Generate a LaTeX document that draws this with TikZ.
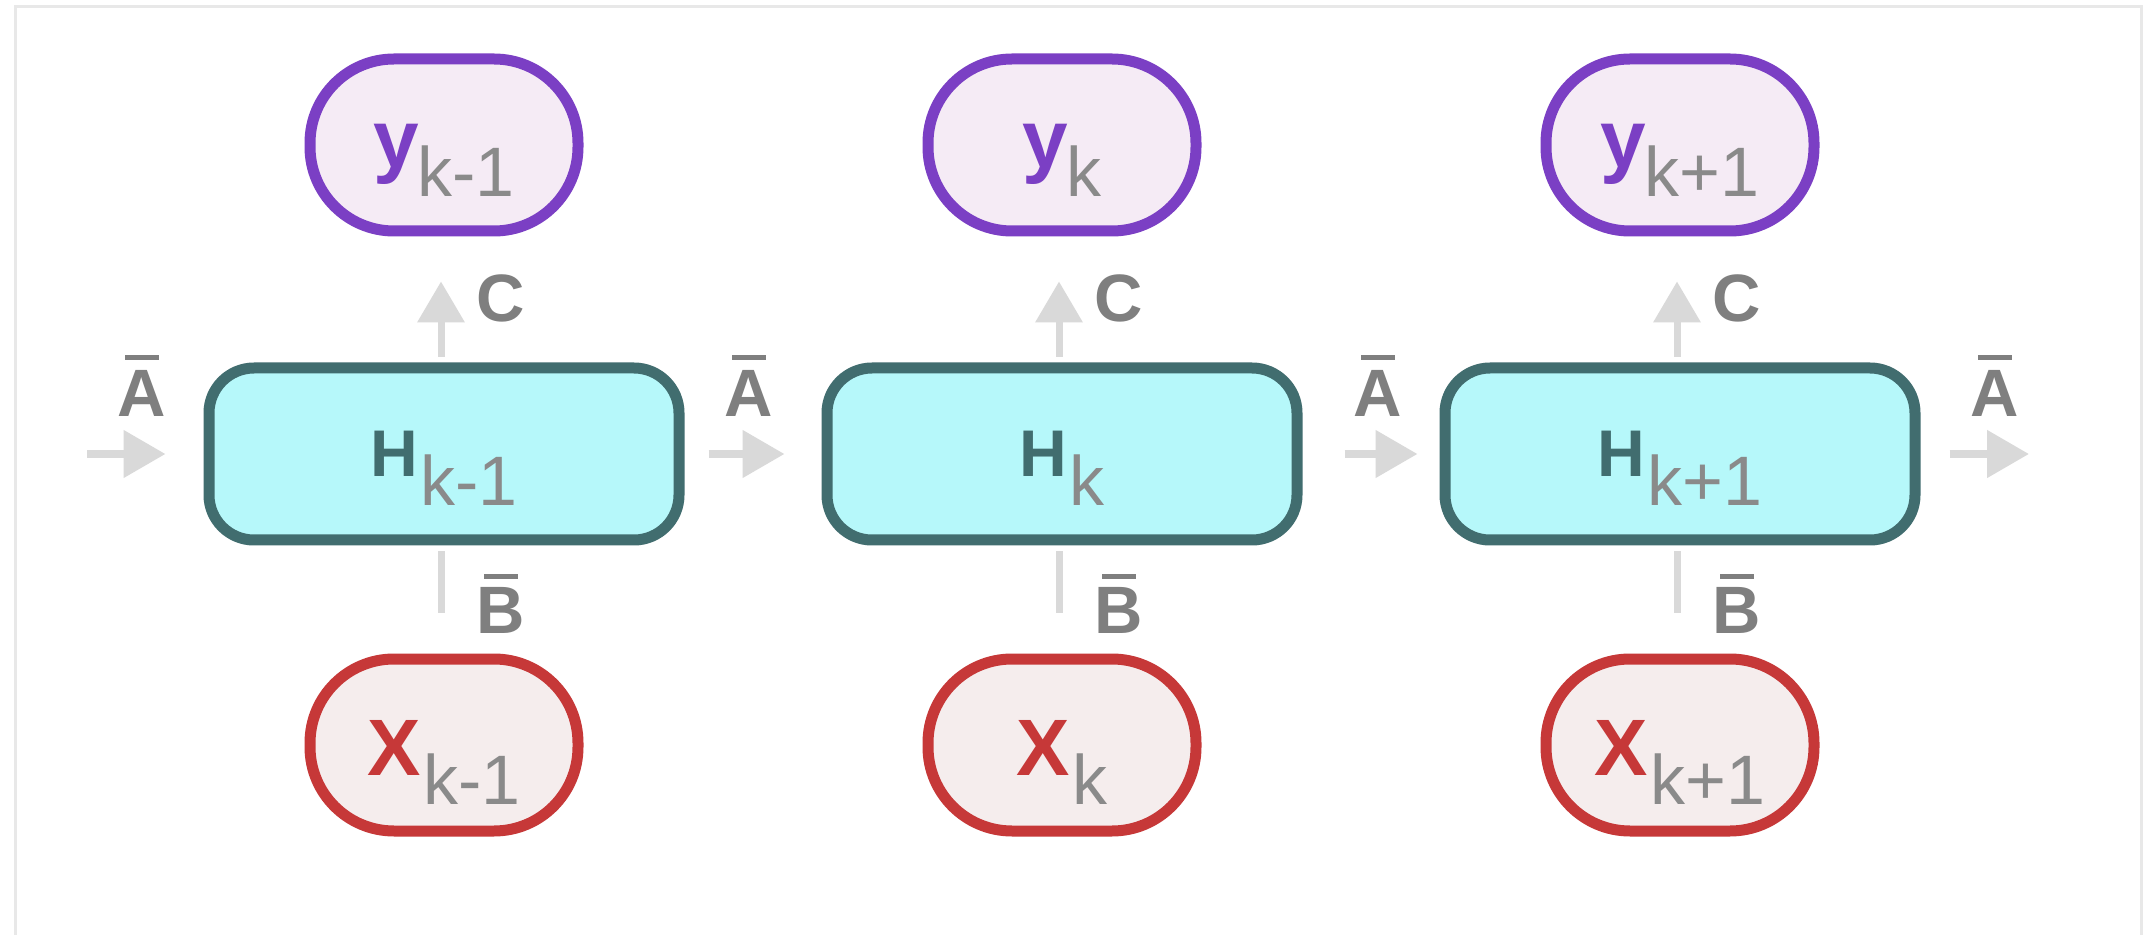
\documentclass[tikz,border=0pt]{standalone}
\usepackage{fontspec}
\setmainfont{Liberation Sans}
\usetikzlibrary{arrows.meta,calc}
\definecolor{ypurple}{HTML}{7B3FC4}
\definecolor{yfill}{HTML}{F5EBF5}
\definecolor{hteal}{HTML}{416D6F}
\definecolor{hfill}{HTML}{B6F8FA}
\definecolor{xred}{HTML}{C63838}
\definecolor{xfill}{HTML}{F5EDED}
\definecolor{subgray}{HTML}{8A8A8A}
\definecolor{lblgray}{HTML}{7F7F7F}
\definecolor{arrgray}{HTML}{D9D9D9}
\definecolor{framegray}{HTML}{E8E8E8}
\newcommand{\lowsub}[1]{\raisebox{-14.5pt}{\fontsize{35}{35}\selectfont\mdseries\color{subgray}#1}}
\newcommand{\barred}[2]{\ooalign{#1\cr\hidewidth\rule[#2]{17pt}{2.3pt}\hidewidth\cr}}
\tikzset{
  ynode/.style={draw=ypurple, fill=yfill, line width=5.5pt, rounded corners=42pt,
    minimum width=134pt, minimum height=86pt, inner sep=0pt,
    text height=23pt, text depth=0pt, text=ypurple,
    font=\fontsize{41}{41}\selectfont\bfseries},
  xnode/.style={draw=xred, fill=xfill, line width=5.5pt, rounded corners=42pt,
    minimum width=134pt, minimum height=86pt, inner sep=0pt,
    text height=30pt, text depth=0pt, text=xred,
    font=\fontsize{40}{40}\selectfont\bfseries},
  hnode/.style={draw=hteal, fill=hfill, line width=5.5pt, rounded corners=22.5pt,
    minimum width=235pt, minimum height=86pt, inner sep=0pt,
    text height=23pt, text depth=0pt, text=hteal,
    font=\fontsize{33}{33}\selectfont\bfseries},
  lbl/.style={text=lblgray, font=\fontsize{33.5}{33.5}\selectfont\bfseries, inner sep=0pt, anchor=base},
  harr/.style={draw=arrgray, line width=4pt, -{Triangle[length=21pt,width=23pt]}},
  varr/.style={draw=arrgray, line width=3.5pt, -{Triangle[length=20.5pt,width=23pt]}, shorten <=2.75pt},
  vline/.style={draw=arrgray, line width=3.5pt, shorten >=2.75pt},
  framec/.style={draw=framegray, line width=1.5pt},
}
\begin{document}
\begin{tikzpicture}[x=0.5pt,y=-0.5pt]
\useasboundingbox (0,0) rectangle (2143,935);
\fill[white] (0,0) rectangle (2143,935);
\draw[framec] (15,935) -- (15,7) -- (2141,7) -- (2141,935);

% output nodes
\node[ynode] (Y1) at (444,145) {y\kern-1pt\lowsub{k-1}};
\node[ynode] (Y2) at (1062,145) {y\kern-1pt\lowsub{k}};
\node[ynode] (Y3) at (1680,145) {y\kern-1pt\lowsub{k+1}};

% state boxes
\node[hnode] (H1) at (444,454) {H\kern1pt\lowsub{k-1}};
\node[hnode] (H2) at (1062,454) {H\kern1pt\lowsub{k}};
\node[hnode] (H3) at (1680,454) {H\kern1pt\lowsub{k+1}};

% input nodes
\node[xnode] (X1) at (444,745) {X\kern1pt\lowsub{k-1}};
\node[xnode] (X2) at (1062,745) {X\kern1pt\lowsub{k}};
\node[xnode] (X3) at (1680,745) {X\kern1pt\lowsub{k+1}};

% horizontal A-bar arrows
\coordinate (a0) at (87,454);
\coordinate (a4) at (2029,454);
\draw[harr] (a0) -- ([xshift=-19pt]H1.west);
\draw[harr] ([xshift=12pt]H1.east) -- ([xshift=-18.5pt]H2.west);
\draw[harr] ([xshift=21pt]H2.east) -- ([xshift=-11pt]H3.west);
\draw[harr] ([xshift=14.5pt]H3.east) -- (a4);

\node[lbl] (LA0) at (142,417) {\barred{A}{28.5pt}};
\node[lbl] (LA1) at (749,417) {\barred{A}{28.5pt}};
\node[lbl] (LA2) at (1378,417) {\barred{A}{28.5pt}};
\node[lbl] (LA3) at (1995,417) {\barred{A}{28.5pt}};

% C arrows and B lines
\foreach \i in {1,2,3}{
  \draw[varr] ([xshift=-1.5pt]H\i.north) -- ([xshift=-1.5pt,yshift=-22.5pt]Y\i.south);
  \draw[vline] ([xshift=-1.5pt,yshift=20.5pt]X\i.north) -- ([xshift=-1.5pt]H\i.south);
  \node[lbl] (LC\i) at ($(H\i.north)+(57,-41)$) {C};
  \node[lbl] (LB\i) at ($(H\i.south)+(57,88)$) {\barred{B}{27.5pt}};
}
\end{tikzpicture}
\end{document}
